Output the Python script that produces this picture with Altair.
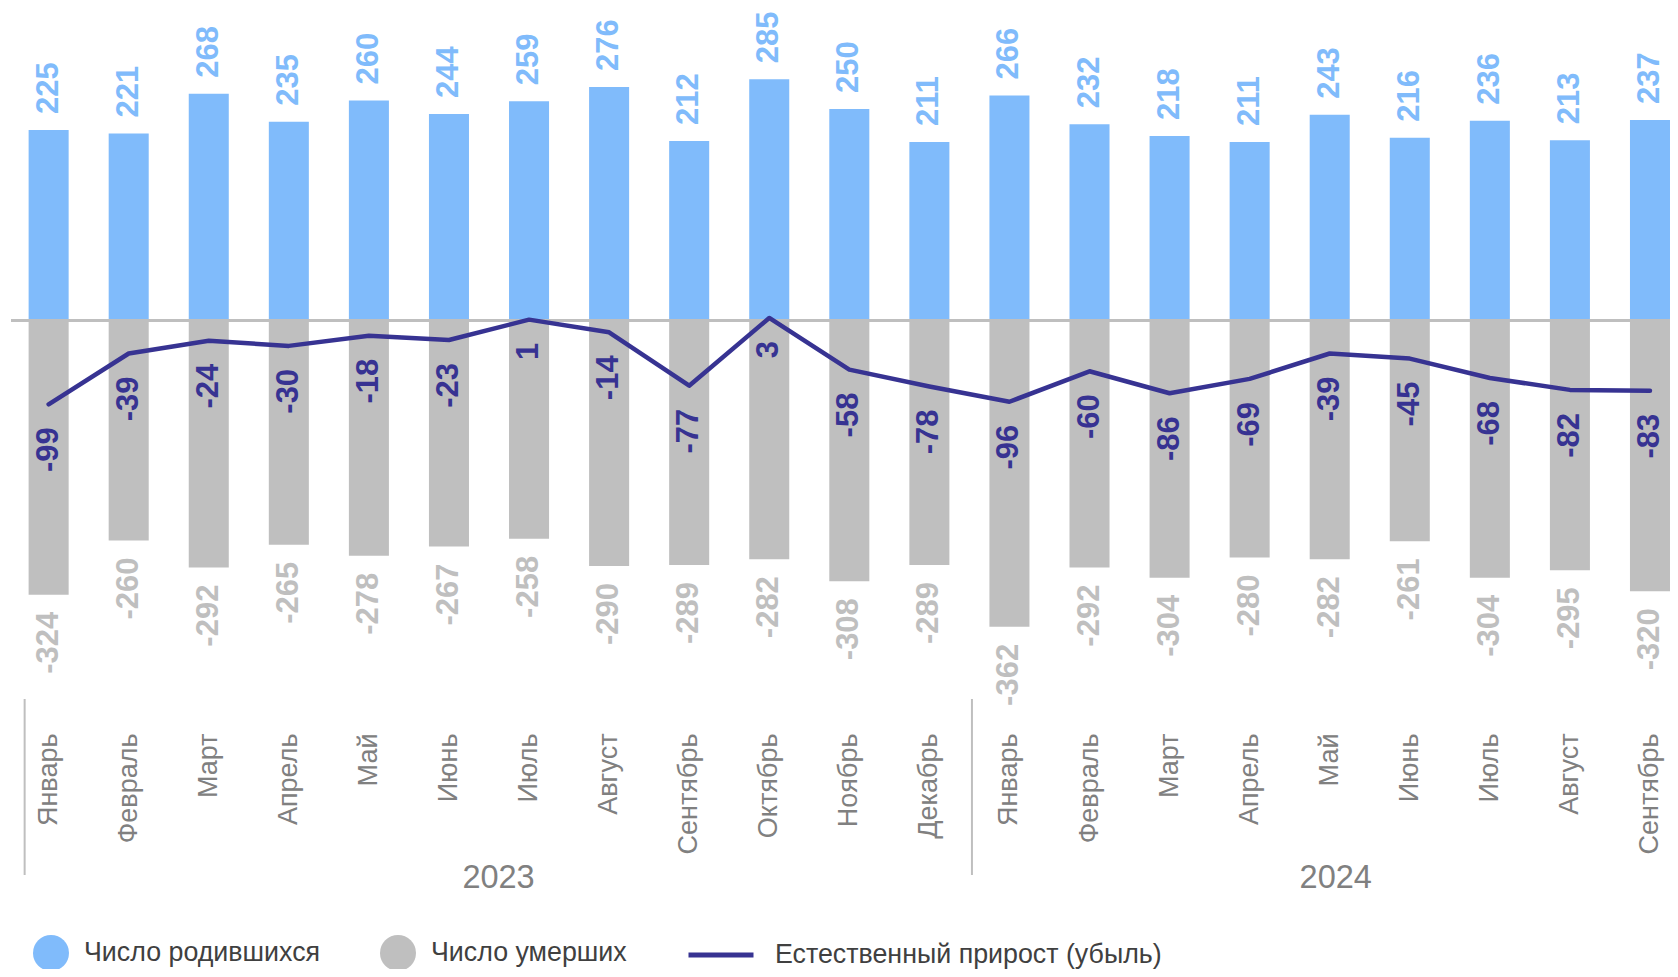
import altair as alt
import pandas as pd

# ---- data ----
months = ["Январь", "Февраль", "Март", "Апрель", "Май", "Июнь", "Июль", "Август",
          "Сентябрь", "Октябрь", "Ноябрь", "Декабрь",
          "Январь", "Февраль", "Март", "Апрель", "Май", "Июнь", "Июль", "Август", "Сентябрь"]
years = ["2023"] * 12 + ["2024"] * 9
births = [225, 221, 268, 235, 260, 244, 259, 276, 212, 285, 250, 211,
          266, 232, 218, 211, 243, 216, 236, 213, 237]
deaths = [-324, -260, -292, -265, -278, -267, -258, -290, -289, -282, -308, -289,
          -362, -292, -304, -280, -282, -261, -304, -295, -320]
natural = [-99, -39, -24, -30, -18, -23, 1, -14, -77, 3, -58, -78,
           -96, -60, -86, -69, -39, -45, -68, -82, -83]
bar_series = ["Число родившихся", "Число умерших"]
line_series = "Естественный прирост (убыль)"
year_labels = ["2023", "2024"]
year_label_anchor = ["Июль 2023", "Май 2024"]
year_first_month = ["Январь 2023", "Январь 2024"]

# ---- styles ----
BLUE = "#80BBFB"
GRAY = "#BFBFBF"
NAVY = "#373392"
AXIS_GRAY = "#808080"
TEXT = "#404040"
FONT = "Liberation Sans"

keys = [f"{m} {y}" for m, y in zip(months, years)]
df = pd.DataFrame({"key": keys, "births": births, "deaths": deaths,
                   "natural": natural, "line": line_series})
bars_df = pd.concat([
    pd.DataFrame({"key": keys, "series": bar_series[0], "value": births}),
    pd.DataFrame({"key": keys, "series": bar_series[1], "value": deaths}),
], ignore_index=True)

x_scale = alt.Scale(domain=keys, paddingInner=0.5, paddingOuter=0.11, align=1)
x_axis = alt.Axis(
    title=None, labelExpr="split(datum.label, ' ')[0]", labelAngle=270,
    labelAlign="right", labelBaseline="middle", labelFont=FONT, labelFontSize=27,
    labelColor=AXIS_GRAY, labelPadding=74, ticks=False, tickSize=0, domain=False,
    labelOverlap=False, grid=False,
)


def X():
    return alt.X("key:N", scale=x_scale, axis=x_axis)


y_scale = alt.Scale(domain=[-400, 361], nice=False, zero=False)


def Y(field):
    return alt.Y(f"{field}:Q", scale=y_scale, axis=None)


bars = alt.Chart(bars_df).mark_bar().encode(
    x=X(),
    y=alt.Y("value:Q", scale=y_scale, axis=None, stack=None),
    color=alt.Color(
        "series:N",
        scale=alt.Scale(domain=bar_series, range=[BLUE, GRAY]),
        legend=alt.Legend(
            title=None, orient="none", legendX=22, legendY=920, direction="horizontal",
            symbolType="circle", symbolSize=1296, symbolStrokeWidth=0,
            labelFont=FONT, labelFontSize=26.8, labelColor=TEXT, labelOffset=15,
            columnPadding=59, padding=0, labelLimit=1000,
        ),
    ),
)

zero_rule = alt.Chart(df).mark_rule(color=GRAY, strokeWidth=2.5).encode(
    y=alt.Y("zero:Q", scale=y_scale, axis=None)
).transform_calculate(zero="0")

line = alt.Chart(df).mark_line(strokeWidth=4.5, strokeCap="round", strokeJoin="round").encode(
    x=X(),
    y=Y("natural"),
    stroke=alt.Stroke(
        "line:N",
        scale=alt.Scale(domain=[line_series], range=[NAVY]),
        legend=alt.Legend(
            title=None, orient="none", legendX=675, legendY=905,
            symbolType="stroke", symbolSize=4225, symbolStrokeWidth=5,
            labelFont=FONT, labelFontSize=26.8, labelColor=TEXT, labelOffset=19,
            padding=0, labelLimit=1000,
        ),
    ),
)

label_common = dict(angle=270, baseline="middle", font=FONT, fontSize=31, fontWeight="bold")

births_lbl = alt.Chart(df).transform_calculate(lbl="'' + datum.births").mark_text(
    align="left", dx=16, color=BLUE, **label_common
).encode(x=X(), y=Y("births"), text="lbl:N")

deaths_lbl = alt.Chart(df).transform_calculate(lbl="'' + datum.deaths").mark_text(
    align="right", dx=-17, color=GRAY, **label_common
).encode(x=X(), y=Y("deaths"), text="lbl:N")

natural_lbl = alt.Chart(df).transform_calculate(lbl="'' + datum.natural").mark_text(
    align="right", dx=-23, color=NAVY, **label_common
).encode(x=X(), y=Y("natural"), text="lbl:N")

# year separators and year labels
sep_offsets = [-24, -37.5]
seps = [
    alt.Chart(pd.DataFrame({"key": [k]})).mark_rule(color=GRAY, strokeWidth=2, xOffset=o).encode(
        x=X(), y=alt.value(684), y2=alt.value(860)
    )
    for k, o in zip(year_first_month, sep_offsets)
]

year_offsets = [-30.5, 6]
year_txt = [
    alt.Chart(pd.DataFrame({"key": [k], "year": [yl]})).mark_text(
        font=FONT, fontSize=32.5, color=AXIS_GRAY, baseline="middle", align="center", xOffset=o
    ).encode(x=X(), y=alt.value(863), text="year:N")
    for k, yl, o in zip(year_label_anchor, year_labels, year_offsets)
]

chart = alt.layer(
    bars, zero_rule, line, births_lbl, deaths_lbl, natural_lbl, *seps, *year_txt
).properties(
    width=1659, height=644,
    padding={"left": 3, "top": 7, "right": 0, "bottom": 310},
    autosize=alt.AutoSizeParams(type="none"),
).configure_view(strokeWidth=0)

chart.save("out.html", embed_options={"renderer": "svg", "actions": False})
